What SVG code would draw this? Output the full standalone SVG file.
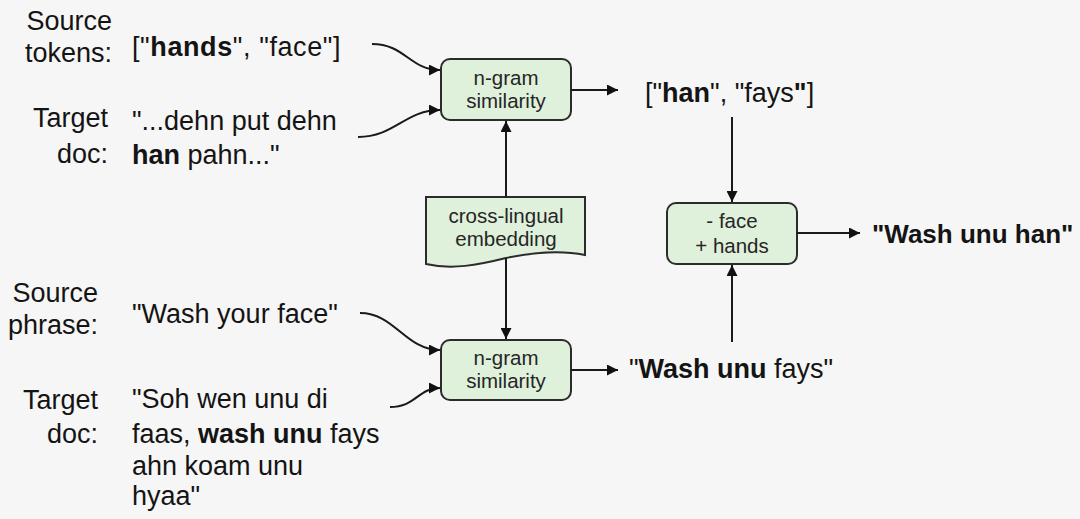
<svg xmlns="http://www.w3.org/2000/svg" width="1080" height="519" viewBox="0 0 1080 519">
<style>
text{font-family:"Liberation Sans",Arial,sans-serif;fill:#141414}
.lbl{font-size:27px;text-anchor:end}
.big{font-size:27px}
.out{font-size:26px}
.box{font-size:20.5px;text-anchor:middle;fill:#262626}
.b{font-weight:bold}
.node{fill:#dff0db;stroke:#2b2b2b;stroke-width:2}
.edge{fill:none;stroke:#1a1a1a;stroke-width:2;marker-end:url(#ah)}
</style>
<defs>
<marker id="ah" viewBox="0 0 10 10" refX="10" refY="5" markerWidth="13" markerHeight="11" markerUnits="userSpaceOnUse" orient="auto">
<path d="M0,0 L10,5 L0,10 Z" fill="#111"/>
</marker>
</defs>
<rect width="1080" height="519" fill="#f6f6f6"/>

<g id="labels">
<text class="lbl" x="112" y="30">Source</text>
<text class="lbl" x="112" y="62">tokens:</text>
<text class="lbl" x="108" y="127">Target</text>
<text class="lbl" x="108" y="163">doc:</text>
<text class="lbl" x="98" y="302">Source</text>
<text class="lbl" x="98" y="334">phrase:</text>
<text class="lbl" x="98" y="409">Target</text>
<text class="lbl" x="98" y="443">doc:</text>
</g>

<g id="inputs">
<text class="big" x="132" y="56" style="letter-spacing:0.6px">["<tspan class="b">hands</tspan>", "face"]</text>
<text class="big" x="132" y="130">"...dehn put dehn</text>
<text class="big" x="132" y="164"><tspan class="b">han</tspan> pahn..."</text>
<text class="big" x="132" y="323">"Wash your face"</text>
<text class="big" x="132" y="408">"Soh wen unu di</text>
<text class="big" x="132" y="443">faas, <tspan class="b">wash unu</tspan> fays</text>
<text class="big" x="132" y="475">ahn koam unu</text>
<text class="big" x="132" y="505">hyaa"</text>
</g>

<g id="ngram-top">
<rect class="node" x="441" y="59" width="130" height="61" rx="9"/>
<text class="box" x="506" y="85">n-gram</text>
<text class="box" x="506" y="108">similarity</text>
</g>

<g id="embedding">
<path class="node" d="M426,197 H585 V255 C560,250 535,252 506,258 C478,265 452,270 426,264 Z"/>
<text class="box" x="506" y="223">cross-lingual</text>
<text class="box" x="506" y="246">embedding</text>
</g>

<g id="ngram-bottom">
<rect class="node" x="441" y="340" width="130" height="60" rx="9"/>
<text class="box" x="506" y="365">n-gram</text>
<text class="box" x="506" y="388">similarity</text>
</g>

<g id="replace">
<rect class="node" x="667" y="203" width="130" height="61" rx="9"/>
<text class="box" x="732" y="228">- face</text>
<text class="box" x="732" y="253">+ hands</text>
</g>

<g id="outputs">
<text class="big" x="645" y="102">["<tspan class="b">han</tspan>", "fays<tspan class="b">"</tspan>]</text>
<text class="big" x="629" y="378">"<tspan class="b">Wash unu</tspan> fays"</text>
<text class="out b" x="872" y="243">"Wash unu han"</text>
</g>

<g id="connectors">
<path class="edge" d="M372,44 C405,44 410,70 440,70"/>
<path class="edge" d="M358,137 C395,137 405,110 440,110"/>
<path class="edge" d="M360,313 C395,313 405,350 440,350"/>
<path class="edge" d="M390,407 C416,407 418,388 440,388"/>
<path class="edge" d="M506,197 V121"/>
<path class="edge" d="M506,258 V339"/>
<path class="edge" d="M571,90 H618"/>
<path class="edge" d="M571,370 H618"/>
<path class="edge" d="M732,117 V202"/>
<path class="edge" d="M732,342 V265"/>
<path class="edge" d="M797,233 H860"/>
</g>
</svg>
